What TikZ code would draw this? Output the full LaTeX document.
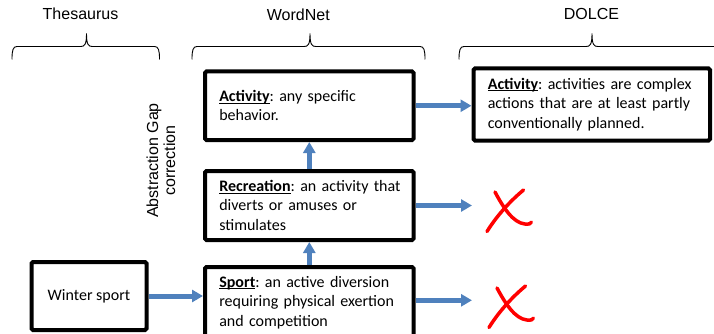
\documentclass[tikz,border=0pt]{standalone}
\usepackage{fontspec}
\setmainfont{Carlito}
\newfontfamily\arialf{Liberation Sans}
\usetikzlibrary{arrows.meta}
\definecolor{arrowblue}{RGB}{79,129,189}
\newcommand\ulterm[1]{\underline{\smash{\textbf{#1}}}}
\newcommand\obrace[3]{%
  \draw[bracestyle] (#1,59.5) .. controls (#1,50) and (#1+1,46.5) .. (#1+5,46.5)
    -- (#2-6,46.5) .. controls (#2-2,46.5) and (#2,45) .. (#2,33.5)
    .. controls (#2,45) and (#2+2,46.5) .. (#2+6,46.5)
    -- (#3-5,46.5) .. controls (#3-1,46.5) and (#3,50) .. (#3,59.5);}
\begin{document}
\frenchspacing
\begin{tikzpicture}[x=1pt,y=-1pt,
  boxstyle/.style={draw=black, line width=4pt, rounded corners=1.5pt, fill=white,
    inner xsep=14.3pt, inner ysep=0pt, outer sep=0pt, align=left,
    font=\frenchspacing\fontsize{16}{19.5}\selectfont, anchor=north west},
  labelstyle/.style={font=\arialf\fontsize{16}{17}\selectfont, inner sep=0pt},
  bracestyle/.style={draw=black, line width=0.9pt},
  arrowstyle/.style={draw=arrowblue, line width=5pt, shorten <=2pt,
    -{Triangle[length=11pt,width=12pt]}},
  xstroke/.style={draw=red, line width=3.5pt, line cap=round},
  redx/.pic={
    \draw[xstroke] (36.5,0) .. controls (22,12) and (9,27) .. (0,41.5);
    \draw[xstroke] (8,2) .. controls (16,17) and (26,33) .. (38,34)
      .. controls (42,34.5) and (44.5,33.5) .. (44.5,32);
  }]
\clip (0,0) rectangle (714,334);

% column labels
\node[labelstyle, anchor=base] (thes) at (80.5,19.5) {Thesaurus};
\node[labelstyle, anchor=base] (wn) at (298.3,20.5) {WordNet};
\node[labelstyle, anchor=base] (dolcelbl) at (591.5,19.5) {DOLCE};

% braces
\obrace{12}{86.5}{159.5}
\obrace{192}{310}{425}
\obrace{459}{592}{725}

% rotated label
\node[labelstyle, rotate=90, align=center] (gap) at (161,160.5) {Abstraction Gap\\correction};

% boxes
\node[boxstyle, minimum width=208.6pt, minimum height=68.5pt, text width=180pt] (act) at (205,71.5)
  {\mbox{\ulterm{Activity}: any specific}\\behavior.};
\node[boxstyle, minimum width=236.5pt, minimum height=72pt, text width=207.9pt] (dolce) at (473.5,68.5)
  {\mbox{\ulterm{Activity}: activities are complex}\\\mbox{actions that are at least partly}\\conventionally planned.};
\node[boxstyle, minimum width=208.6pt, minimum height=69pt, text width=180pt] (rec) at (205,171)
  {\mbox{\ulterm{Recreation}: an activity that}\\diverts or amuses or\\stimulates};
\node[boxstyle, minimum width=208.6pt, minimum height=71pt, text width=180pt] (sport) at (205,267)
  {\mbox{\ulterm{Sport}: an active diversion}\\\mbox{requiring physical exertion}\\and competition};
\node[boxstyle, align=center, inner xsep=0pt, minimum width=115pt, minimum height=68pt] (ws) at (31.5,262)
  {Winter sport};

% free ends
\coordinate (x1) at (472,205.5);
\coordinate (x2) at (472,300.3);

% arrows
\draw[arrowstyle, shorten >=2pt] (ws.east) -- (ws.east -| sport.west);
\draw[arrowstyle, shorten >=2pt] (sport.north) -- (rec.south);
\draw[arrowstyle, shorten >=2pt] (rec.north) -- (act.south);
\draw[arrowstyle, shorten >=2pt] (act.east) -- (act.east -| dolce.west);
\draw[arrowstyle] (rec.east) -- (x1);
\draw[arrowstyle] (x2 -| sport.east) -- (x2);

% red crosses
\pic at (487,190) {redx};
\pic at (489,286) {redx};
\end{tikzpicture}
\end{document}
